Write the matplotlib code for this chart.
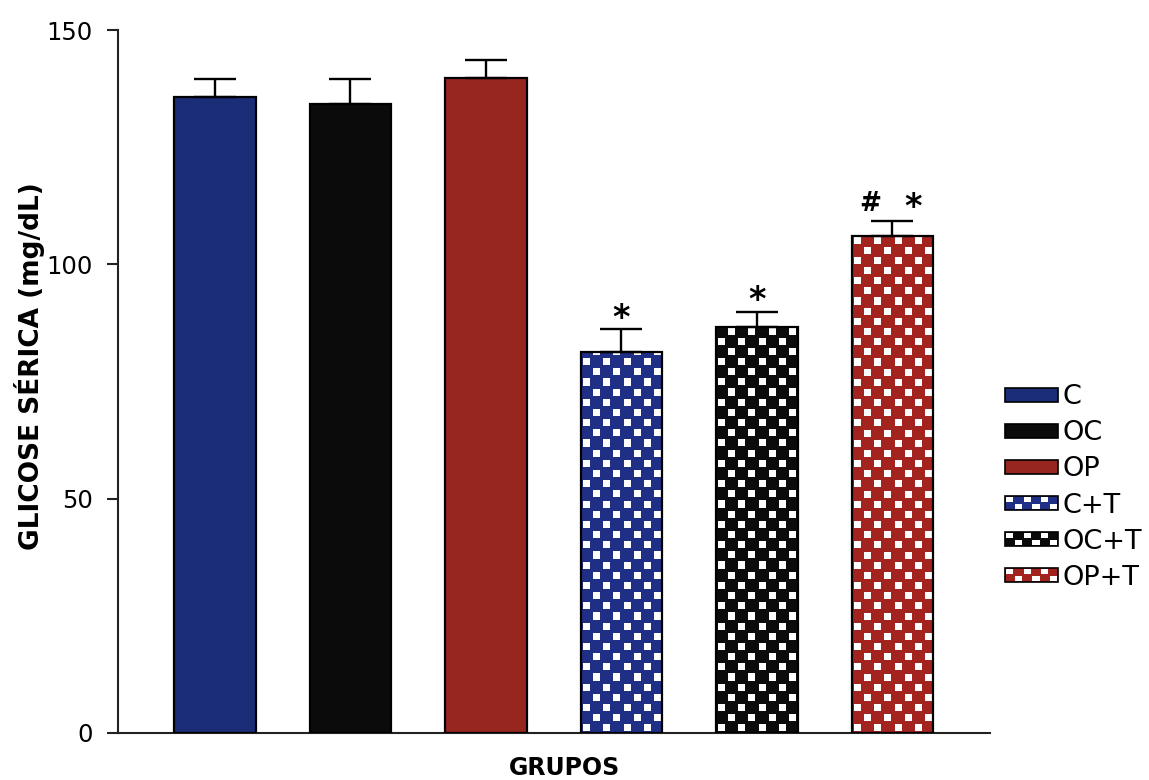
import math
import numpy as np
import matplotlib
matplotlib.use("Agg")
import matplotlib.pyplot as plt
from matplotlib.patches import Rectangle
from matplotlib.legend_handler import HandlerBase

# Serum glucose per group (mean and SEM, mg/dL)
groups = ["C", "OC", "OP", "C+T", "OC+T", "OP+T"]
means = [135.8, 134.3, 139.7, 81.2, 86.7, 106.0]
sem = [3.7, 5.2, 3.9, 4.9, 3.2, 3.3]
checkered = [False, False, False, True, True, True]
colors = ["#1c2d78", "#0b0b0b", "#97261f", "#1f2f86", "#0b0b0b", "#a3241f"]
marks = ["", "", "", "*", "*", "# *"]
yticks = [0, 50, 100, 150]

plt.rcParams["font.family"] = ["DejaVu Sans"]

fig = plt.figure(figsize=(11.49, 7.80), dpi=100)
ax = fig.add_axes([118 / 1149, 1 - 733 / 780, 872 / 1149, 703 / 780])

x = np.arange(len(groups))
bar_w = 0.6
ax.set_xlim(-0.716, 5.72)
ax.set_ylim(0, 150)

bars = ax.bar(x, means, width=bar_w, color=colors, edgecolor="none", zorder=2)


def checker_image(ncols, nrows, sub=20, lo=3, hi=17):
    """RGBA checkerboard: white squares on transparent background."""
    img = np.zeros((nrows * sub, ncols * sub, 4))
    for r in range(nrows):
        for c in range(ncols):
            if (r + c) % 2 == 0:
                img[r * sub + lo:r * sub + hi, c * sub + lo:c * sub + hi, :] = 1.0
    return img


# white checker squares over the treated groups, clipped to each bar
for rect, chk in zip(bars, checkered):
    if not chk:
        continue
    x0, w, h = rect.get_x(), rect.get_width(), rect.get_height()
    p0 = ax.transData.transform((x0, 0))
    p1 = ax.transData.transform((x0 + w, h))
    ncols = 8
    cell_px = (p1[0] - p0[0]) / ncols
    nrows = int(math.ceil((p1[1] - p0[1]) / cell_px))
    cell_h = h * cell_px / (p1[1] - p0[1])
    im = ax.imshow(checker_image(ncols, nrows), extent=(x0, x0 + w, 0, nrows * cell_h),
                   origin="lower", interpolation="nearest", aspect="auto", zorder=2.5)
    im.set_clip_path(rect)

# bar outlines on top
ax.bar(x, means, width=bar_w, fill=False, edgecolor="black", linewidth=1.6, zorder=3)

# upper error bars only
ax.errorbar(x, means, yerr=[np.zeros(len(x)), sem], fmt="none", ecolor="black",
            elinewidth=1.7, capsize=15, capthick=1.7, zorder=4)

ax.set_xlim(-0.716, 5.72)
ax.set_ylim(0, 150)

# significance marks
for i, m in enumerate(marks):
    if not m:
        continue
    top = means[i] + sem[i]
    if m == "*":
        ax.annotate("*", (x[i], top), xytext=(0, 1), textcoords="offset points",
                    ha="center", va="baseline", fontsize=24, fontweight="bold", zorder=5)
    else:
        ax.annotate("#", (x[i], top), xytext=(-16, 7), textcoords="offset points",
                    ha="center", va="baseline", fontsize=19, fontweight="bold", zorder=5)
        ax.annotate("*", (x[i], top), xytext=(15, 3), textcoords="offset points",
                    ha="center", va="baseline", fontsize=24, fontweight="bold", zorder=5)

# axes styling
for side in ("top", "right"):
    ax.spines[side].set_visible(False)
for side in ("left", "bottom"):
    ax.spines[side].set_linewidth(1.5)
    ax.spines[side].set_color("#222222")
ax.set_xticks([])
ax.set_yticks(yticks)
ax.tick_params(axis="y", direction="out", length=8, width=1.5, pad=10,
               labelsize=17.5, colors="#222222", labelcolor="black")

ax.set_ylabel("GLICOSE SÉRICA (mg/dL)", fontsize=19, fontweight="bold", va="center")
ax.yaxis.set_label_coords(-0.101, 0.522)
ax.set_xlabel("GRUPOS", fontsize=17, fontweight="bold", va="center")
ax.xaxis.set_label_coords(0.5126, -0.0498)


class SwatchHandler(HandlerBase):
    def __init__(self, color, chk):
        super().__init__()
        self.color = color
        self.chk = chk

    def create_artists(self, legend, orig_handle, xdescent, ydescent, width, height,
                       fontsize, trans):
        x0, y0 = -xdescent, -ydescent
        arts = [Rectangle((x0, y0), width, height, facecolor=self.color,
                          edgecolor="black", linewidth=1.2, transform=trans)]
        if self.chk:
            ncol, nrow = 6, 2
            cw, ch = width / ncol, height / nrow
            for r in range(nrow):
                for c in range(ncol):
                    if (r + c) % 2 == 1:
                        arts.append(Rectangle((x0 + c * cw + 0.1 * cw, y0 + r * ch + 0.12 * ch),
                                              0.8 * cw, 0.76 * ch, facecolor="white",
                                              edgecolor="none", transform=trans))
        return arts


handles = [Rectangle((0, 0), 1, 1) for _ in groups]
hmap = {h: SwatchHandler(c, k) for h, c, k in zip(handles, colors, checkered)}
fig.legend(handles, groups, handler_map=hmap, loc="center left",
           bbox_to_anchor=(1005 / 1149, 1 - 487.5 / 780), frameon=False,
           fontsize=19.5, handlelength=1.96, handleheight=0.44, labelspacing=0.37,
           handletextpad=0.15, borderpad=0, borderaxespad=0)

fig.savefig("out.png", dpi=100)
